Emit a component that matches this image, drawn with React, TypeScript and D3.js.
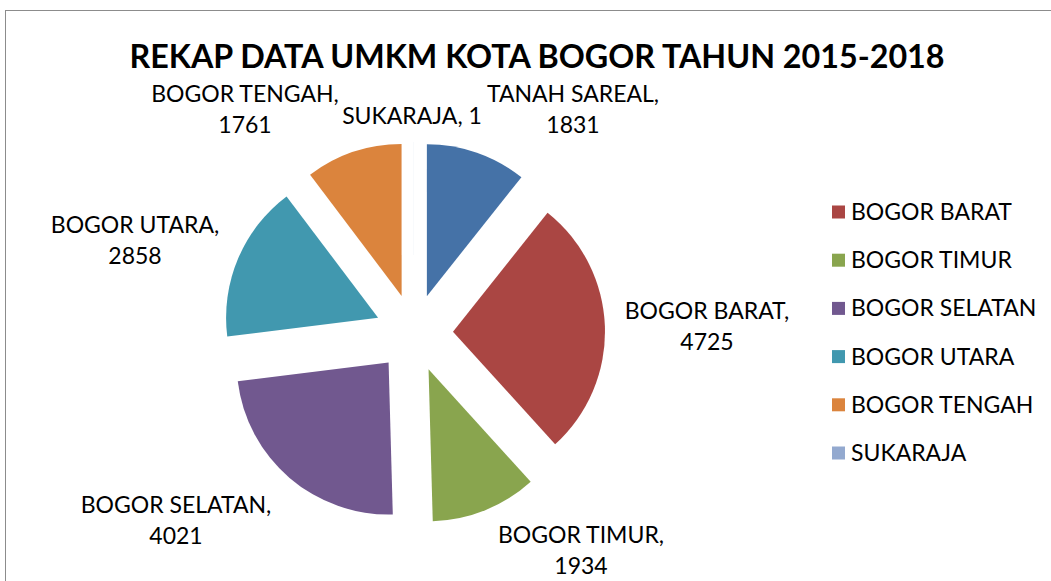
import { useEffect, useRef } from 'react';
import * as d3 from 'd3';

const categories = ['TANAH SAREAL', 'BOGOR BARAT', 'BOGOR TIMUR', 'BOGOR SELATAN', 'BOGOR UTARA', 'BOGOR TENGAH', 'SUKARAJA'];
const values = [1831, 4725, 1934, 4021, 2858, 1761, 1];
const colors = ['#4572A7', '#AA4643', '#89A54E', '#71588F', '#4198AF', '#DB843D', '#93A9CF'];
const legendItems = ['BOGOR BARAT', 'BOGOR TIMUR', 'BOGOR SELATAN', 'BOGOR UTARA', 'BOGOR TENGAH', 'SUKARAJA'];
const title = 'REKAP DATA UMKM KOTA BOGOR TAHUN 2015-2018';

// label anchor (center x, first baseline) per slice, single-line for SUKARAJA
const labelPos: Record<string, [number, number]> = {
  'TANAH SAREAL': [573, 102],
  'BOGOR BARAT': [707, 319],
  'BOGOR TIMUR': [581, 543],
  'BOGOR SELATAN': [176, 513],
  'BOGOR UTARA': [135, 233],
  'BOGOR TENGAH': [245, 102],
  'SUKARAJA': [412, 124],
};

const FONT = 'Lato, "Open Sans", sans-serif';

export default function App() {
  const ref = useRef<SVGSVGElement>(null);

  useEffect(() => {
    const svg = d3.select(ref.current);
    svg.selectAll('*').remove();

    svg.append('rect').attr('x', 5.5).attr('y', 10.5).attr('width', 1100).attr('height', 700)
      .attr('fill', '#fff').attr('stroke', '#8c8c8c').attr('stroke-width', 1);

    svg.append('text').attr('x', 537).attr('y', 68).attr('text-anchor', 'middle')
      .attr('textLength', 815).attr('lengthAdjust', 'spacingAndGlyphs')
      .style('font-family', FONT).style('font-weight', 700).style('font-size', '33px').style('fill', '#000')
      .text(title);

    const cx = 414, cy = 333, r = 152, explode = 39;
    const data = categories.map((c, i) => ({ name: c, value: values[i], color: colors[i] }));
    const pie = d3.pie<any>().value(d => d.value).sort(null);
    const arc = d3.arc<any>().innerRadius(0).outerRadius(r);

    const g = svg.append('g').attr('transform', `translate(${cx},${cy})`);
    pie(data).forEach(a => {
      const mid = (a.startAngle + a.endAngle) / 2;
      const dx = Math.sin(mid) * explode, dy = -Math.cos(mid) * explode;
      g.append('path').attr('d', arc(a) as string).attr('fill', a.data.color)
        .attr('transform', `translate(${dx},${dy})`);
    });

    data.forEach(d => {
      const [x, y] = labelPos[d.name];
      const t = svg.append('text').attr('x', x).attr('y', y).attr('text-anchor', 'middle')
        .style('font-family', FONT).style('font-size', '23px').style('fill', '#000');
      if (d.name === 'SUKARAJA') {
        t.text(`${d.name}, ${d.value}`);
      } else {
        t.append('tspan').attr('x', x).text(`${d.name},`);
        t.append('tspan').attr('x', x).attr('dy', 31).text(d.value);
      }
    });

    const lg = svg.append('g');
    legendItems.forEach((name, i) => {
      const y = 212 + i * 48.2;
      const color = colors[categories.indexOf(name)];
      lg.append('rect').attr('x', 832).attr('y', y - 6.5).attr('width', 13).attr('height', 13).attr('fill', color);
      lg.append('text').attr('x', 851).attr('y', y + 8)
        .style('font-family', FONT).style('font-size', '23px').style('fill', '#000').text(name);
    });
  }, []);

  return (
    <svg ref={ref} width={1051} height={581}
      style={{ position: 'absolute', left: 0, top: 0, background: '#fff' }} />
  );
}
